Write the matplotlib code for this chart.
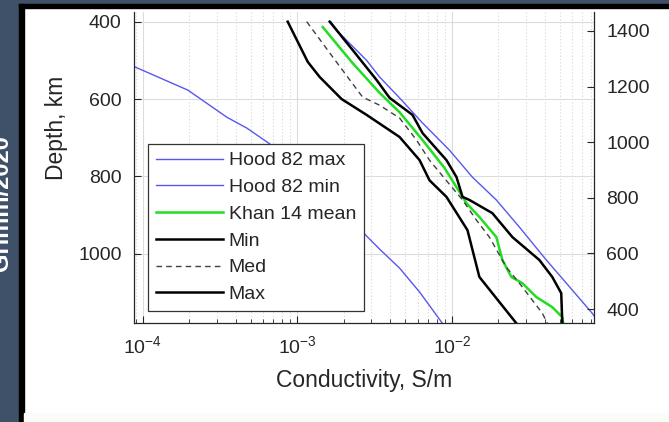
import matplotlib
matplotlib.use("Agg")
import matplotlib.pyplot as plt
import numpy as np
from matplotlib.patches import Rectangle
from matplotlib.ticker import LogLocator, NullFormatter

plt.rcParams['font.family'] = ['Liberation Sans', 'DejaVu Sans']
plt.rcParams['mathtext.fontset'] = 'custom'
plt.rcParams['mathtext.rm'] = 'Liberation Sans'
plt.rcParams['mathtext.it'] = 'Liberation Sans'

# ---------------- data (depth in km, log10 conductivity in S/m) ----------------
hood_max_depth = [400, 430, 500, 543, 597, 662, 732, 802, 861, 931, 1016, 1076, 1154, 1180]
hood_max_logc = [-2.785, -2.727, -2.552, -2.468, -2.339, -2.190, -2.016, -1.867, -1.712,
                 -1.563, -1.389, -1.259, -1.091, -1.046]

hood_min_depth = [500, 517, 577, 647, 675, 716, 949, 988, 1037, 1099, 1180]
hood_min_logc = [-4.12, -4.052, -3.709, -3.457, -3.328, -3.179, -2.565, -2.468, -2.339,
                 -2.209, -2.061]

khan_depth = [414, 507, 584, 634, 706, 778, 869, 905, 957, 1016, 1060, 1076, 1112, 1138, 1164, 1180]
khan_logc = [-2.836, -2.643, -2.468, -2.339, -2.190, -2.048, -1.906, -1.822, -1.712, -1.673,
             -1.615, -1.544, -1.453, -1.350, -1.285, -1.279]

min_depth = [400, 504, 543, 600, 641, 698, 758, 810, 853, 939, 1060, 1180]
min_logc = [-3.063, -2.933, -2.856, -2.714, -2.552, -2.339, -2.209, -2.145, -2.035,
            -1.899, -1.822, -1.582]

med_depth = [400, 491, 595, 616, 649, 706, 758, 814, 861, 913, 957, 1035, 1076, 1120, 1154, 1180]
med_logc = [-2.940, -2.772, -2.578, -2.468, -2.339, -2.229, -2.145, -2.029, -1.931, -1.841,
            -1.757, -1.647, -1.563, -1.479, -1.414, -1.382]

max_depth = [400, 473, 551, 597, 641, 688, 758, 802, 853, 861, 895, 957, 1016, 1060, 1102, 1180]
max_logc = [-2.791, -2.643, -2.487, -2.403, -2.255, -2.190, -2.035, -1.970, -1.931, -1.886,
            -1.738, -1.608, -1.434, -1.350, -1.292, -1.285]

left_ticks = [400, 600, 800, 1000]
right_ticks = [400, 600, 800, 1000, 1200, 1400]
x_ticks = [1e-4, 1e-3, 1e-2]
x_ticklabels = [r'$\mathregular{10^{-4}}$', r'$\mathregular{10^{-3}}$', r'$\mathregular{10^{-2}}$']
legend_labels = ['Hood 82 max', 'Hood 82 min', 'Khan 14 mean', 'Min', 'Med', 'Max']
side_text = 'Grimm/2020'

# ---------------- figure ----------------
W, H = 669, 422
fig = plt.figure(figsize=(W / 100, H / 100), dpi=100, facecolor='white')

dark = '#3f5069'
fig.patches.append(Rectangle((0, 0), 19 / W, 1, transform=fig.transFigure, color=dark, zorder=0))
fig.patches.append(Rectangle((0, 1 - 4 / H), 1, 4 / H, transform=fig.transFigure, color=dark, zorder=0))
fig.patches.append(Rectangle((19 / W, 0), 5 / W, 1 - 4 / H, transform=fig.transFigure, color='black', zorder=0))
fig.patches.append(Rectangle((19 / W, 1 - 8 / H), 1, 4 / H, transform=fig.transFigure, color='black', zorder=0))
fig.patches.append(Rectangle((24 / W, 0), 1, 9 / H, transform=fig.transFigure, color='#f9fcf7', zorder=0))

fig.text(13 / W, 1 - 135 / H, side_text, rotation=90, color='white', fontsize=17,
         fontweight='bold', ha='right', va='top')

ax_l, ax_r, ax_t, ax_b = 134, 594, 12, 323
ax = fig.add_axes([ax_l / W, 1 - ax_b / H, (ax_r - ax_l) / W, (ax_b - ax_t) / H])
ax.patch.set_alpha(0)

blue = '#5757ee'
green = '#22dd22'
l1, = ax.plot(10 ** np.array(hood_max_logc), hood_max_depth, color=blue, lw=1.0)
l2, = ax.plot(10 ** np.array(hood_min_logc), hood_min_depth, color=blue, lw=1.0)
l3, = ax.plot(10 ** np.array(khan_logc), khan_depth, color=green, lw=1.8)
l4, = ax.plot(10 ** np.array(min_logc), min_depth, color='black', lw=1.8)
l5, = ax.plot(10 ** np.array(med_logc), med_depth, color='#404040', lw=1.0, dashes=(4, 3))
l6, = ax.plot(10 ** np.array(max_logc), max_depth, color='black', lw=1.8)

ax.set_xscale('log')
ax.set_xlim(8.75e-5, 0.0832)
ax.set_ylim(1179, 375)
ax.set_xticks(x_ticks)
ax.set_xticklabels(x_ticklabels)
ax.xaxis.set_minor_locator(LogLocator(base=10, subs=np.arange(2, 10)))
ax.xaxis.set_minor_formatter(NullFormatter())
ax.set_yticks(left_ticks)

tc = '#262626'
ax.tick_params(axis='x', which='major', direction='in', length=5, width=0.8, colors=tc,
               labelsize=14, pad=9, top=False)
ax.tick_params(axis='x', which='minor', direction='in', length=3, width=0.6, colors=tc, top=False)
ax.tick_params(axis='y', which='major', direction='in', length=5, width=0.8, colors=tc,
               labelsize=14, pad=9, right=False)

ax.grid(True, which='major', axis='both', color='#dcdcdc', lw=0.8, ls='-')
ax.grid(True, which='minor', axis='x', color='#d6d6d6', lw=0.8, ls=(0, (1, 2)))
ax.set_axisbelow(True)

for s in ['top', 'right']:
    ax.spines[s].set_visible(False)
for s in ['left', 'bottom']:
    ax.spines[s].set_color(tc)
    ax.spines[s].set_linewidth(0.9)

ax.set_xlabel('Conductivity, S/m', fontsize=16.5, color=tc)
ax.xaxis.set_label_coords(0.5, -(381 - ax_b) / (ax_b - ax_t), transform=ax.transAxes)
ax.xaxis.label.set_va('center')
ax.set_ylabel('Depth, km', fontsize=16.5, color=tc)
ax.yaxis.set_label_coords(-(ax_l - 56) / (ax_r - ax_l), 1 - (128 - ax_t) / (ax_b - ax_t), transform=ax.transAxes)
ax.yaxis.label.set_va('center')

ax2 = ax.twinx()
ax2.set_ylim(350, 1468)
ax2.set_yticks(right_ticks)
ax2.tick_params(axis='y', direction='in', length=5, width=0.8, colors=tc, labelsize=14, pad=9)
for s in ['top', 'left', 'bottom']:
    ax2.spines[s].set_visible(False)
ax2.spines['right'].set_color(tc)
ax2.spines['right'].set_linewidth(0.9)

leg = ax2.legend([l1, l2, l3, l4, l5, l6], legend_labels, loc='upper left',
                 bbox_to_anchor=(148 / W, 1 - 144 / H), bbox_transform=fig.transFigure,
                 borderaxespad=0, fontsize=14, frameon=True, fancybox=False, framealpha=1,
                 handlelength=3.45, handletextpad=0.3, labelspacing=0.47, borderpad=0.4)
leg.get_frame().set_edgecolor('#333333')
leg.get_frame().set_linewidth(0.9)
for t in leg.get_texts():
    t.set_color(tc)

fig.savefig('out.png', dpi=100, facecolor=fig.get_facecolor())
